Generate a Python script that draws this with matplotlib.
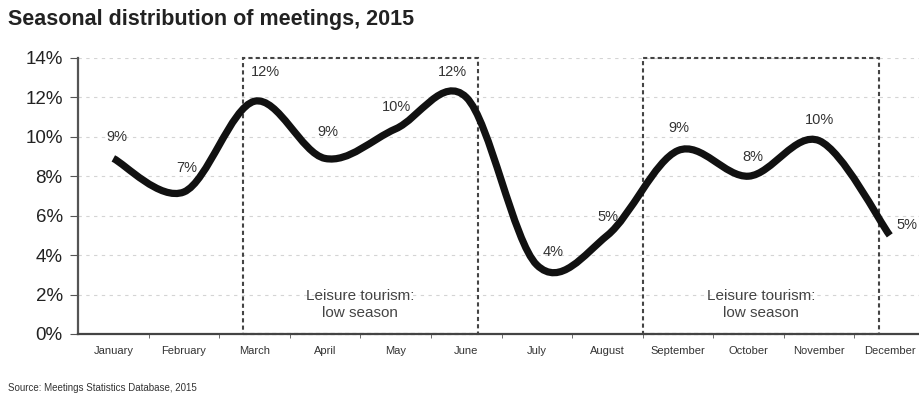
import numpy as np
import matplotlib.pyplot as plt
from matplotlib.path import Path
from matplotlib.patches import PathPatch, Rectangle

plt.rcParams['font.family'] = ['Liberation Sans', 'DejaVu Sans']

# Monthly share of meetings (%)
months = ['January', 'February', 'March', 'April', 'May', 'June', 'July',
          'August', 'September', 'October', 'November', 'December']
share = [8.9, 7.2, 11.8, 8.9, 10.4, 12.0, 3.5, 5.0, 9.3, 8.0, 9.8, 5.0]
y_ticks = [0, 2, 4, 6, 8, 10, 12, 14]

# label nudges in pixels (dx, dy)
label_offsets = [(4, 21), (3, 24), (11, 29), (3, 26), (1, 22), (-14, 25),
                 (16, 13), (1, 18), (1, 23), (4, 19), (0, 21), (17, 10)]

# low-season boxes (x from, x to) in category units
boxes = [(1.84, 5.16), (7.51, 10.85)]
box_text = 'Leisure tourism:\nlow season'

fig = plt.figure(figsize=(9.2, 3.99), dpi=100)
ax = fig.add_axes([0.0848, 0.163, 0.9207, 0.692])

x = np.arange(len(months))
y = np.array(share)

# smooth line: Catmull-Rom segments as cubic Beziers
pts = np.column_stack([x, y])
ext = np.vstack([pts[0], pts, pts[-1]])
verts = [pts[0]]
codes = [Path.MOVETO]
for i in range(len(pts) - 1):
    p0, p1, p2, p3 = ext[i], ext[i + 1], ext[i + 2], ext[i + 3]
    c1 = p1 + (p2 - p0) / 6
    c2 = p2 - (p3 - p1) / 6
    verts += [c1, c2, p2]
    codes += [Path.CURVE4] * 3
ax.add_patch(PathPatch(Path(verts, codes), facecolor='none', edgecolor='#111111',
                       lw=5.2, capstyle='butt', zorder=4))

for xi, yi, (dx, dy) in zip(x, y, label_offsets):
    ax.annotate(f'{yi:.0f}%', (xi, yi), xytext=(dx, dy), textcoords='offset pixels',
                ha='center', va='center', fontsize=10.5, color='#333333', zorder=5)

for x0, x1 in boxes:
    ax.add_patch(Rectangle((x0, 0), x1 - x0, 14, fill=False, edgecolor='#444444',
                           lw=1.5, linestyle=(0, (2, 1.5)), zorder=3, clip_on=False))
    ax.text((x0 + x1) / 2, 1.5, box_text, ha='center', va='center', fontsize=11,
            color='#444444', linespacing=1.25)

ax.set_xlim(-0.5, 11.5)
ax.set_ylim(0, 14)
ax.set_yticks(y_ticks)
ax.set_yticklabels([f'{v}%' for v in y_ticks], fontsize=13.5, color='#222222')
ax.set_xticks(x)
ax.set_xticklabels(months, fontsize=8, color='#333333')
ax.set_xticks(np.arange(0.5, 11.5, 1), minor=True)
ax.tick_params(axis='x', which='major', length=0, pad=9)
ax.tick_params(axis='x', which='minor', length=3, color='#555555', direction='out')
ax.tick_params(axis='y', length=6, color='#555555', pad=5)

for v in y_ticks[1:]:
    ax.axhline(v, color='#d4d4d4', lw=0.8, linestyle=(0, (3, 4)), zorder=1)

for side in ['top', 'right']:
    ax.spines[side].set_visible(False)
ax.spines['left'].set_color('#555555')
ax.spines['left'].set_linewidth(1.6)
ax.spines['bottom'].set_color('#444444')
ax.spines['bottom'].set_linewidth(1.6)

fig.text(0.009, 0.952, 'Seasonal distribution of meetings, 2015', fontsize=15.5,
         fontweight='bold', color='#222222', va='center')
fig.text(0.009, 0.028, 'Source: Meetings Statistics Database, 2015', fontsize=7,
         color='#333333', va='center')

fig.savefig('out.png', dpi=100)
plt.close(fig)
